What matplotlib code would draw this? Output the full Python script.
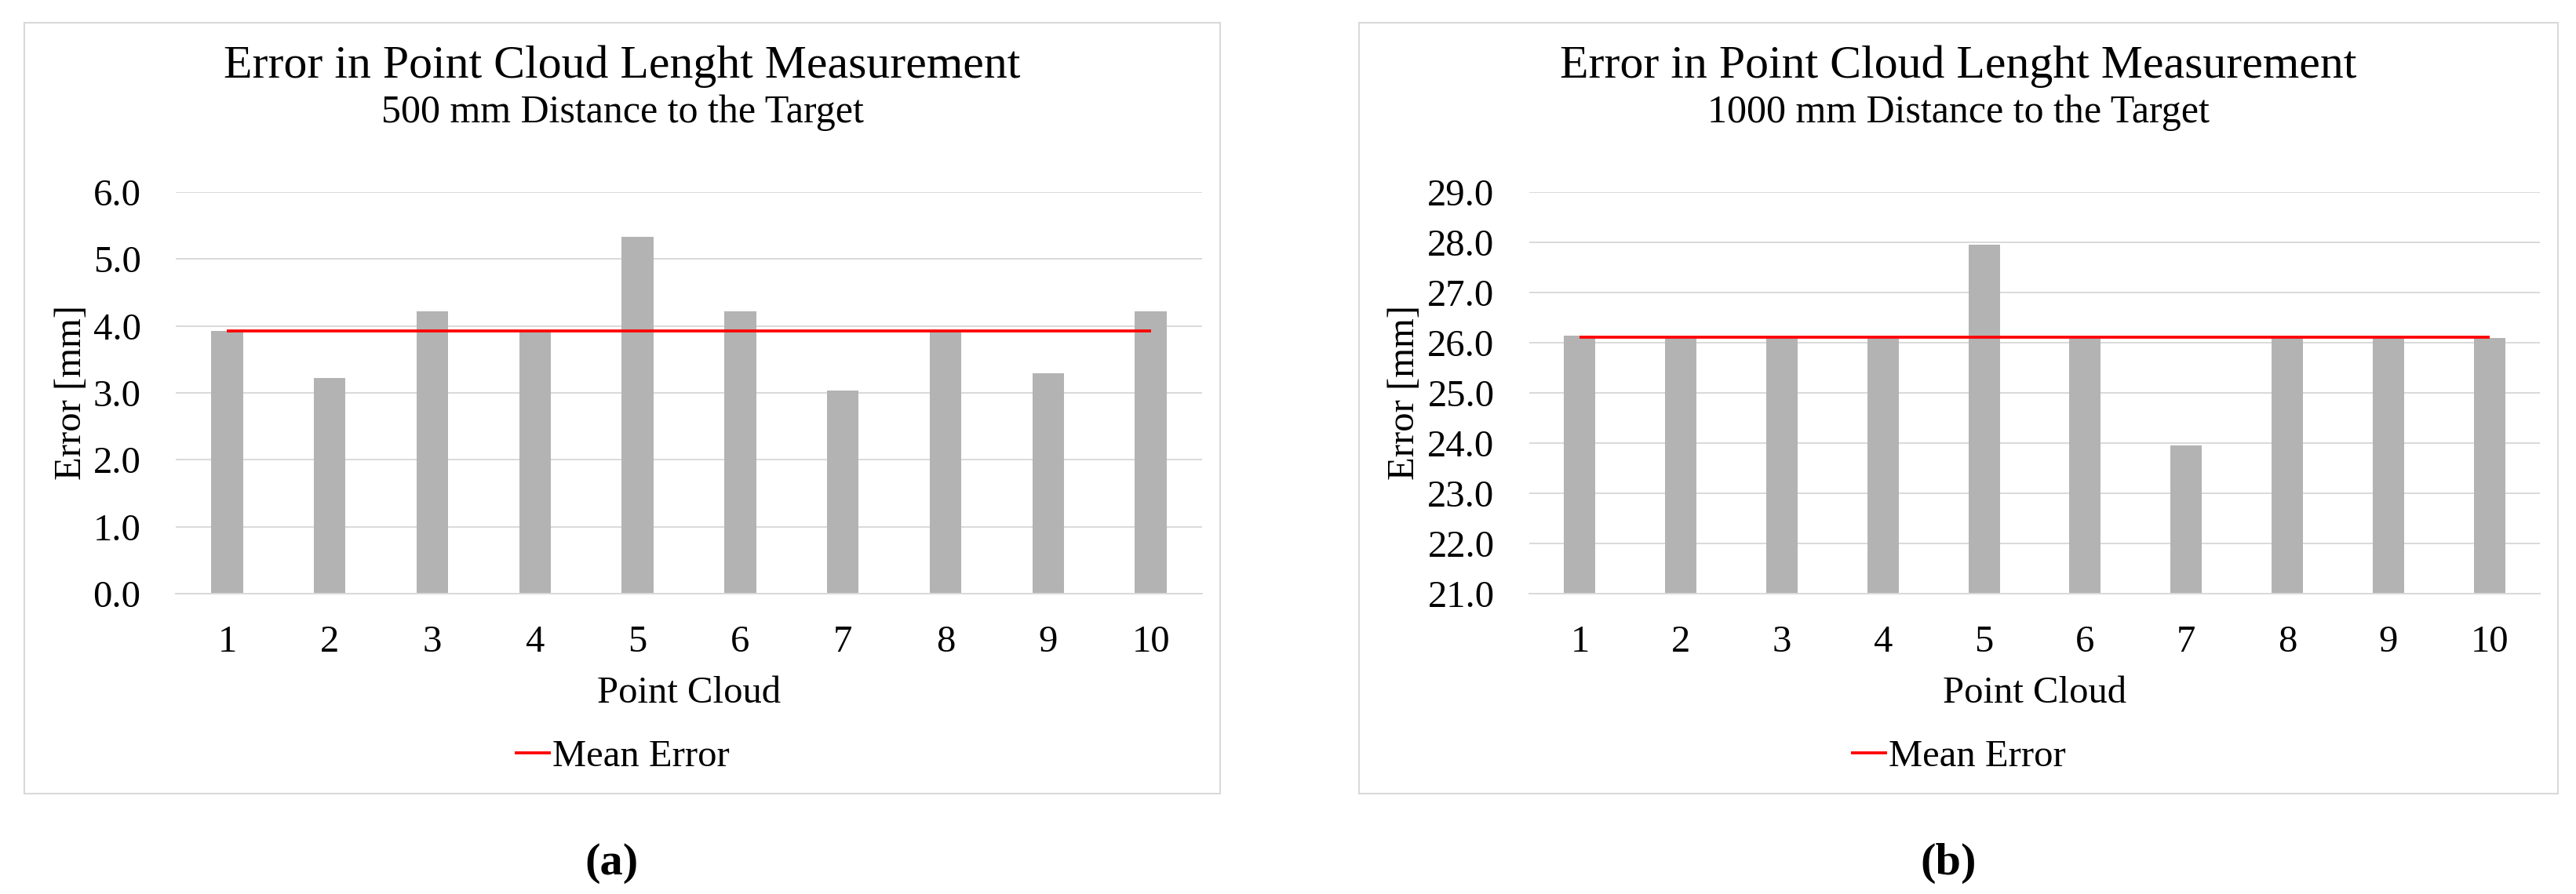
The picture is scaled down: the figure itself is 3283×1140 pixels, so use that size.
import numpy as np
import matplotlib
matplotlib.use("Agg")
import matplotlib.pyplot as plt
from matplotlib.patches import Rectangle
from matplotlib.ticker import FormatStrFormatter

# ---------------------------------------------------------
# Datos
# ---------------------------------------------------------
point_clouds = [1, 2, 3, 4, 5, 6, 7, 8, 9, 10]

error_500 = [3.93, 3.22, 4.22, 3.93, 5.33, 4.22, 3.04, 3.93, 3.29, 4.22]
mean_500 = 3.93

error_1000 = [26.14, 26.10, 26.10, 26.10, 27.95, 26.10, 23.96, 26.10, 26.10, 26.10]
mean_1000 = 26.11

titles = ["Error in Point Cloud Lenght Measurement"] * 2
subtitles = ["500 mm Distance to the Target", "1000 mm Distance to the Target"]
captions = ["a", "b"]
ylims = [(0, 6), (21, 29)]

# ---------------------------------------------------------
# Estilo
# ---------------------------------------------------------
plt.rcParams['font.family'] = ['Liberation Serif', 'DejaVu Serif']
W, H = 3283, 1140
fig = plt.figure(figsize=(W / 100, H / 100), dpi=100)

bar_color = '#B3B3B3'
grid_color = '#D9D9D9'
line_color = '#FF0000'
fs = 35

# coordenadas en pixeles de cada panel
frames = [(31, 1555), (1732, 3260)]
axes_x = [(224, 1532), (1949, 3237)]
ylabel_x = [91, 1790]
ax_top, ax_bot = 245, 757
frame_top, frame_bot = 29, 1012


def fx(px):
    return px / W


def fy(py):
    return 1 - py / H


series = [error_500, error_1000]
means = [mean_500, mean_1000]

for i in range(2):
    x0, x1 = axes_x[i]
    ax = fig.add_axes([fx(x0), fy(ax_bot), fx(x1 - x0), (ax_bot - ax_top) / H])

    ax.bar(point_clouds, series[i], width=0.31, color=bar_color, zorder=2)
    ax.plot(point_clouds, [means[i]] * len(point_clouds), color=line_color,
            lw=2.7, zorder=3, label='Mean Error', solid_capstyle='butt')

    lo, hi = ylims[i]
    ax.set_ylim(lo, hi)
    ax.set_xlim(0.5, 10.5)
    ax.set_yticks(np.arange(lo, hi + 1, 1))
    ax.yaxis.set_major_formatter(FormatStrFormatter('%.1f'))
    ax.set_xticks(point_clouds)
    ax.grid(axis='y', color=grid_color, lw=1.4, zorder=0)
    for s in ['top', 'right', 'left']:
        ax.spines[s].set_visible(False)
    ax.spines['bottom'].set_color(grid_color)
    ax.spines['bottom'].set_linewidth(1.4)
    ax.tick_params(axis='both', length=0, labelsize=fs)
    ax.tick_params(axis='y', pad=32)
    ax.tick_params(axis='x', pad=29)

    ax.set_xlabel('Point Cloud', fontsize=fs, va='top')
    ax.xaxis.set_label_coords(0.5, -0.205)
    ax.set_ylabel('Error [mm]', fontsize=fs, va='center')
    ax.yaxis.set_label_coords((ylabel_x[i] - x0) / (x1 - x0), 0.5)

    # marco del grafico
    f0, f1 = frames[i]
    fig.patches.append(Rectangle((fx(f0), fy(frame_bot)), fx(f1 - f0), (frame_bot - frame_top) / H,
                                 transform=fig.transFigure, fill=False,
                                 edgecolor=grid_color, lw=1.5))
    cx = fx((f0 + f1) / 2)
    fig.text(cx, fy(99), titles[i], fontsize=43, ha='center', va='baseline')
    fig.text(cx, fy(156), subtitles[i], fontsize=36, ha='center', va='baseline')

    ax.legend(loc='center', bbox_to_anchor=(cx, fy(965)), bbox_transform=fig.transFigure,
              frameon=False, fontsize=fs, handlelength=0.95, handletextpad=0.05)

    # etiqueta (a) / (b)
    fig.text(cx - 0.004, fy(1101), '(' + captions[i] + ')', fontsize=42,
             fontweight='bold', ha='center', va='center')

fig.savefig('out.png', dpi=100, facecolor='white')
